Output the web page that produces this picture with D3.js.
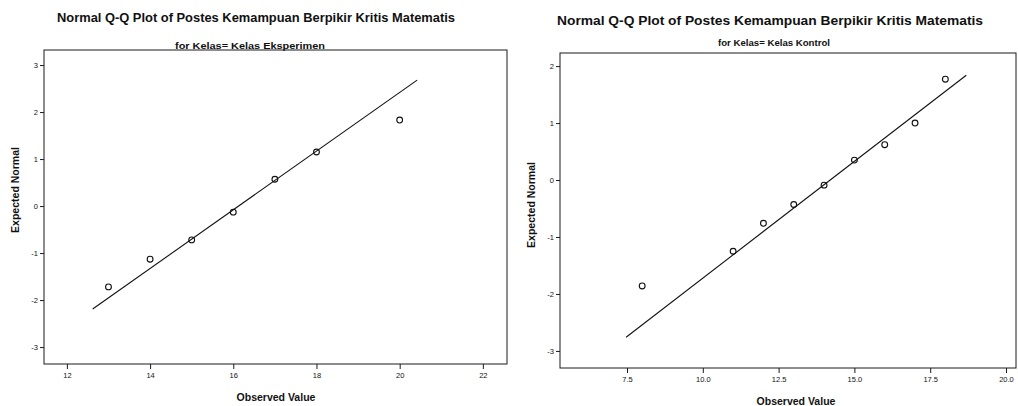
<!DOCTYPE html>
<meta charset="utf-8">
<style>
body { margin: 0; background: #fff; }
svg { font-family: "Liberation Sans", Arial, sans-serif; }
.frame { fill: none; stroke: #1a1a1a; stroke-width: 1; }
.tick line { stroke: #1a1a1a; }
.tick text { font-size: 7.5px; fill: #111; }
.title { font-size: 12px; font-weight: bold; fill: #111; }
.subtitle { font-size: 8.5px; font-weight: bold; fill: #111; }
.axis-label { font-size: 10.5px; font-weight: bold; fill: #111; }
.fit { stroke: #111; stroke-width: 1.1; fill: none; }
.pt { fill: none; stroke: #111; stroke-width: 1.1; }
</style>
<body></body>
<script src="https://cdn.jsdelivr.net/npm/d3@7"></script>
<script>

// Data
var titleText = "Normal Q-Q Plot of Postes Kemampuan Berpikir Kritis Matematis";
var subtitles = ["for Kelas= Kelas Eksperimen", "for Kelas= Kelas Kontrol"];

var eksObserved = [13, 14, 15, 16, 17, 18, 20];
var eksExpected = [-1.72, -1.13, -0.72, -0.13, 0.57, 1.15, 1.83];
var eksLineX = [12.62, 20.42];
var eksLineY = [-2.19, 2.68];
var eksXTicks = [12, 14, 16, 18, 20, 22];
var eksYTicks = [-3, -2, -1, 0, 1, 2, 3];

var konObserved = [8, 11, 12, 13, 14, 15, 16, 17, 18];
var konExpected = [-1.86, -1.25, -0.76, -0.43, -0.09, 0.35, 0.62, 1.0, 1.77];
var konLineX = [7.47, 18.69];
var konLineY = [-2.76, 1.84];
var konXTicks = [7.5, 10, 12.5, 15, 17.5, 20];
var konYTicks = [-3, -2, -1, 0, 1, 2];

var width = 1018, height = 406;

// plain hyphen for negatives, like the original output
var intFmt = function(d) { return String(d); };
var oneDec = function(d) { return d.toFixed(1); };

var svg = d3.select("body").append("svg")
    .attr("width", width)
    .attr("height", height);

var panels = [
  { obs: eksObserved, exp: eksExpected, lx: eksLineX, ly: eksLineY,
    xt: eksXTicks, yt: eksYTicks, xfmt: intFmt,
    xdom: [11.45, 22.58], ydom: [-3.36, 3.32],
    box: {left: 44, right: 507, top: 50, bottom: 364},
    title: {x: 256, y: 22, len: 398}, sub: {x: 250, y: 49, len: 150, text: subtitles[0]},
    ylab: {x: 19, y: 190}, xlab: {x: 276, y: 401} },
  { obs: konObserved, exp: konExpected, lx: konLineX, ly: konLineY,
    xt: konXTicks, yt: konYTicks, xfmt: oneDec,
    xdom: [5.29, 20.33], ydom: [-3.30, 2.23],
    box: {left: 560, right: 1016, top: 53, bottom: 368},
    title: {x: 770, y: 25, len: 426}, sub: {x: 774, y: 46, len: 112, text: subtitles[1]},
    ylab: {x: 535, y: 205}, xlab: {x: 796, y: 405} }
];

panels.forEach(function(p) {
  var x = d3.scaleLinear().domain(p.xdom).range([p.box.left, p.box.right]);
  var y = d3.scaleLinear().domain(p.ydom).range([p.box.bottom, p.box.top]);
  var g = svg.append("g");

  // titles
  g.append("text")
      .attr("class", "title")
      .attr("x", p.title.x)
      .attr("y", p.title.y)
      .attr("text-anchor", "middle")
      .attr("textLength", p.title.len)
      .attr("lengthAdjust", "spacingAndGlyphs")
      .text(titleText);
  g.append("text")
      .attr("class", "subtitle")
      .attr("x", p.sub.x)
      .attr("y", p.sub.y)
      .attr("text-anchor", "middle")
      .attr("textLength", p.sub.len)
      .attr("lengthAdjust", "spacingAndGlyphs")
      .text(p.sub.text);

  // frame
  g.append("rect")
      .attr("class", "frame")
      .attr("x", p.box.left)
      .attr("y", p.box.top)
      .attr("width", p.box.right - p.box.left)
      .attr("height", p.box.bottom - p.box.top);

  // axes
  var ya = g.append("g")
      .attr("transform", "translate(" + p.box.left + ",0)")
      .call(d3.axisLeft(y).tickValues(p.yt).tickSize(4).tickPadding(2).tickFormat(intFmt));
  ya.select(".domain").remove();

  var xa = g.append("g")
      .attr("transform", "translate(0," + p.box.bottom + ")")
      .call(d3.axisBottom(x).tickValues(p.xt).tickSize(5).tickPadding(4).tickFormat(p.xfmt));
  xa.select(".domain").remove();

  // axis labels
  g.append("text")
      .attr("class", "axis-label")
      .attr("transform", "translate(" + p.ylab.x + "," + p.ylab.y + ") rotate(-90)")
      .attr("text-anchor", "middle")
      .text("Expected Normal");
  g.append("text")
      .attr("class", "axis-label")
      .attr("x", p.xlab.x)
      .attr("y", p.xlab.y)
      .attr("text-anchor", "middle")
      .text("Observed Value");

  // reference line
  g.append("line")
      .attr("class", "fit")
      .attr("x1", x(p.lx[0])).attr("y1", y(p.ly[0]))
      .attr("x2", x(p.lx[1])).attr("y2", y(p.ly[1]));

  // points
  g.selectAll("circle")
    .data(p.obs)
    .enter().append("circle")
      .attr("class", "pt")
      .attr("cx", function(d) { return x(d); })
      .attr("cy", function(d, i) { return y(p.exp[i]); })
      .attr("r", 2.9);
});

</script>
